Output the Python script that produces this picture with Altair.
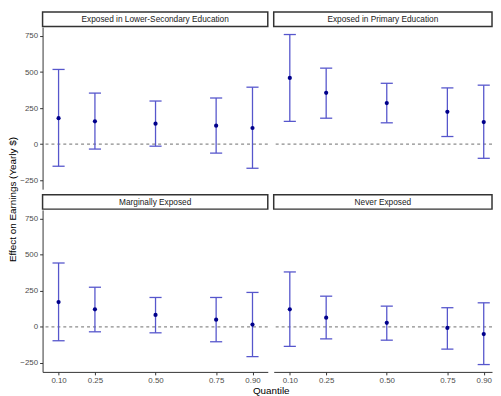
import altair as alt
import pandas as pd

quantiles = [0.10, 0.25, 0.50, 0.75, 0.90]
groups = [
    "Exposed in Lower-Secondary Education",
    "Exposed in Primary Education",
    "Marginally Exposed",
    "Never Exposed",
]
est_lower_sec = [180, 158, 142, 128, 112]
lo_lower_sec = [-153, -34, -14, -62, -167]
hi_lower_sec = [518, 354, 299, 320, 395]

est_primary = [459, 356, 285, 224, 153]
lo_primary = [158, 180, 148, 53, -98]
hi_primary = [760, 527, 422, 390, 409]

est_marginal = [172, 122, 83, 50, 16]
lo_marginal = [-96, -34, -41, -103, -206]
hi_marginal = [443, 275, 204, 204, 239]

est_never = [122, 64, 28, -7, -50]
lo_never = [-135, -83, -92, -154, -261]
hi_never = [381, 213, 144, 133, 167]

y_ticks = [-250, 0, 250, 500, 750]
x_title = "Quantile"
y_title = "Effect on Earnings (Yearly $)"

FONT = "Liberation Sans"
BAR = "#5656cc"
PT = "#00008b"
AX = "#333333"
LBL = "#4d4d4d"

W_L = 228
W_R = 221
H = 164
PX_PER_UNIT = 245.4
Y_DOM = [-312, 811]
X_DOM_L = [0.034, 0.034 + W_L / PX_PER_UNIT]
X_DOM_R = [0.0336, 0.0336 + W_R / PX_PER_UNIT]


def panel(est, lo, hi, label, width, x_dom, show_x, show_y, x_t=False, y_t=False):
    df = pd.DataFrame({"q": quantiles, "est": est, "lo": lo, "hi": hi})
    base = alt.Chart(df)
    if show_x:
        xaxis = alt.Axis(
            values=quantiles, format=".2f", labelFontSize=8, labelColor=LBL,
            labelFont=FONT, tickColor=AX, domainColor=AX, tickSize=3,
            labelPadding=2, grid=False, domainWidth=1,
            title=x_title if x_t else "",
            titleFont=FONT, titleFontSize=10, titleFontWeight="normal",
            titleColor="#000000", titleX=231, titleY=19,
            titleBaseline="middle", titleAlign="center",
        )
    else:
        xaxis = None
    if show_y:
        yaxis = alt.Axis(
            values=y_ticks, labelFontSize=8, labelColor=LBL, labelFont=FONT,
            tickColor=AX, domainColor=AX, tickSize=3, labelPadding=2,
            grid=False, domainWidth=1,
            title=y_title if y_t else "",
            titleFont=FONT, titleFontSize=10, titleFontWeight="normal",
            titleColor="#000000", titleX=-30, titleY=174, titleAngle=270,
            titleBaseline="middle", titleAlign="center",
        )
    else:
        yaxis = None
    xs = alt.Scale(domain=x_dom, nice=False, zero=False)
    ys = alt.Scale(domain=Y_DOM, nice=False, zero=False)

    def X(f):
        return alt.X(f, type="quantitative", scale=xs, axis=xaxis)

    def Y(f):
        return alt.Y(f, type="quantitative", scale=ys, axis=yaxis)

    zdf = pd.DataFrame({"z": [0]})
    zero = alt.Chart(zdf).mark_rule(
        color="#8c8c8c", strokeDash=[3, 3], strokeWidth=1.1
    ).encode(y=Y("z"))
    bars = base.mark_rule(color=BAR, strokeWidth=1.3).encode(
        x=X("q"), y=Y("lo"), y2="hi:Q"
    )
    caps = base.transform_calculate(xl="datum.q - 0.025", xr="datum.q + 0.025")
    cap_hi = caps.mark_rule(color=BAR, strokeWidth=1.3).encode(
        x=X("xl"), x2="xr:Q", y=Y("hi")
    )
    cap_lo = caps.mark_rule(color=BAR, strokeWidth=1.3).encode(
        x=X("xl"), x2="xr:Q", y=Y("lo")
    )
    pts = base.mark_circle(color=PT, size=18, opacity=1).encode(
        x=X("q"), y=Y("est")
    )
    sdf = pd.DataFrame({"label": [label]})
    strip = alt.Chart(sdf).mark_rect(fill="white", stroke=AX, strokeWidth=1.5).encode(
        x=alt.value(0), x2=alt.value(width), y=alt.value(-15.3), y2=alt.value(-0.8)
    )
    stext = alt.Chart(sdf).mark_text(
        font=FONT, fontSize=8.4, color="#1a1a1a", baseline="middle", align="center"
    ).encode(x=alt.value(width / 2), y=alt.value(-7.8), text="label:N")
    return alt.layer(zero, bars, cap_hi, cap_lo, pts, strip, stext).properties(
        width=width, height=H
    )


tl = panel(est_lower_sec, lo_lower_sec, hi_lower_sec, groups[0], W_L, X_DOM_L, False, True, y_t=True)
tr = panel(est_primary, lo_primary, hi_primary, groups[1], W_R, X_DOM_R, False, False)
bl = panel(est_marginal, lo_marginal, hi_marginal, groups[2], W_L, X_DOM_L, True, True, x_t=True)
br = panel(est_never, lo_never, hi_never, groups[3], W_R, X_DOM_R, True, False)

chart = alt.concat(
    tl, tr, bl, br,
    columns=2,
    spacing={"row": 21, "column": 6},
    bounds="flush",
).properties(padding=0).configure_view(stroke=None)

chart.save("out.html", embed_options={"renderer": "svg", "actions": False})
